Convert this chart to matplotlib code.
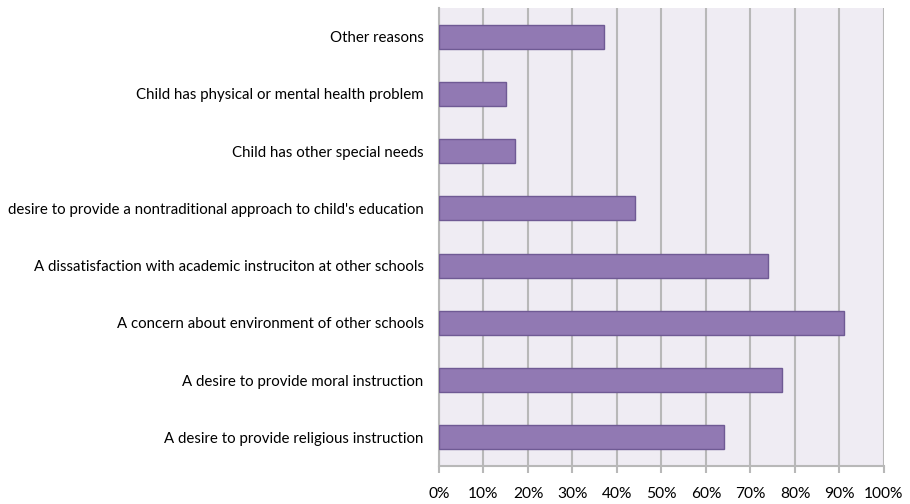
import matplotlib
matplotlib.use("Agg")
import matplotlib.pyplot as plt
from matplotlib import font_manager
from matplotlib.ticker import PercentFormatter

reasons = [
    "A desire to provide religious instruction",
    "A desire to provide moral instruction",
    "A concern about environment of other schools",
    "A dissatisfaction with academic instruciton at other schools",
    "desire to provide a nontraditional approach to child's education",
    "Child has other special needs",
    "Child has physical or mental health problem",
    "Other reasons",
]
pct = [64, 77, 91, 74, 44, 17, 15, 37]
xticks = [0, 10, 20, 30, 40, 50, 60, 70, 80, 90, 100]

# narrow font if we have one, otherwise Lato a bit smaller
try:
    font_manager.findfont("Liberation Sans Narrow", fallback_to_default=False)
    fam, fs = "Liberation Sans Narrow", 12.8
except ValueError:
    fam, fs = "Lato", 10.8
plt.rcParams['font.family'] = [fam, 'DejaVu Sans']

fig = plt.figure(figsize=(9.1, 5.04), dpi=100)
ax = fig.add_axes([0.4824, 0.0754, 0.489, 0.9086])
ax.set_facecolor("#EFECF3")

ax.barh(range(len(reasons)), pct, height=0.42, color="#9179B3",
        edgecolor="#6F5A94", linewidth=1.0, zorder=3)

ax.set_xlim(0, 100)
ax.set_ylim(-0.5, len(reasons) - 0.5)
ax.set_xticks(xticks)
ax.xaxis.set_major_formatter(PercentFormatter(decimals=0))
ax.set_yticks(range(len(reasons)))
ax.set_yticklabels(reasons)

ax.grid(axis='x', color="#B8B8B8", linewidth=1.5, zorder=0)
ax.grid(axis='y', visible=False)
for s in ("top", "right"):
    ax.spines[s].set_visible(False)
for s in ("left", "bottom"):
    ax.spines[s].set_color("#B8B8B8")
    ax.spines[s].set_linewidth(1.5)

ax.tick_params(axis='y', length=0, pad=11, labelsize=fs)
ax.tick_params(axis='x', length=5, width=1.5, color="#B8B8B8", pad=10,
               labelsize=fs + 0.4, direction='out')

fig.savefig("out.png", dpi=100)
